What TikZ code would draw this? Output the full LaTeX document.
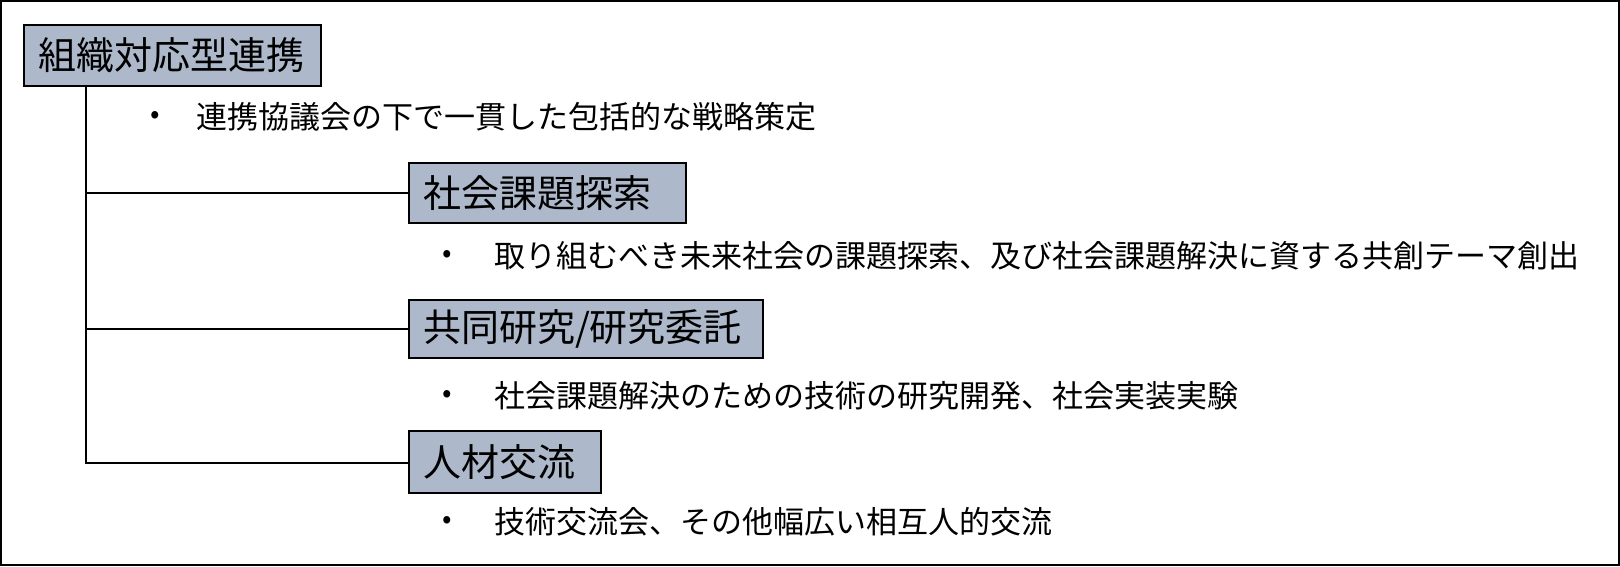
\documentclass[tikz,border=0pt]{standalone}
\usepackage{fontspec}
\setmainfont{Noto Sans CJK JP}
\definecolor{boxfill}{RGB}{173,185,202}
\begin{document}
\begin{tikzpicture}[x=1pt,y=-1pt,
  box/.style={draw=black, line width=2pt, fill=boxfill, anchor=north west, inner xsep=14pt, inner ysep=0pt,
    font=\fontsize{38}{42}\selectfont, align=left},
  bullet/.style={inner sep=0pt, font=\fontsize{28}{32}\selectfont},
  item/.style={anchor=west, inner sep=0pt, font=\fontsize{31}{36}\selectfont},
  conn/.style={line width=2pt}]
\useasboundingbox (0,0) rectangle (1620,566);
\draw[line width=2pt] (1,1) rectangle (1619,565);
% boxes
\node[box, minimum width=297pt, minimum height=61pt, text width=269pt] (main) at (23,24) {組織対応型連携};
\node[box, minimum width=277pt, minimum height=60pt, text width=249pt] (b1) at (408,162) {社会課題探索};
\node[box, minimum width=354pt, minimum height=58pt, text width=326pt] (b2) at (408,299) {共同研究/研究委託};
\node[box, minimum width=192pt, minimum height=62pt, text width=164pt] (b3) at (408,430) {人材交流};
% trunk
\coordinate (trunk) at (86,463);
\draw[conn] (main.south -| trunk) -- (trunk) -- (trunk -| b3.west);
\draw[conn] (trunk |- b1.west) -- (b1.west);
\draw[conn] (trunk |- b2.west) -- (b2.west);
% bullets
\node[bullet] (d0) at (155,117) {•};
\node[item] (t0) at (196,117) {連携協議会の下で一貫した包括的な戦略策定};
\node[bullet] (d1) at (447,256) {•};
\node[item] (t1) at (494,256) {取り組むべき未来社会の課題探索、及び社会課題解決に資する共創テーマ創出};
\node[bullet] (d2) at (447,396) {•};
\node[item] (t2) at (494,396) {社会課題解決のための技術の研究開発、社会実装実験};
\node[bullet] (d3) at (447,522) {•};
\node[item] (t3) at (494,522) {技術交流会、その他幅広い相互人的交流};
\end{tikzpicture}
\end{document}
